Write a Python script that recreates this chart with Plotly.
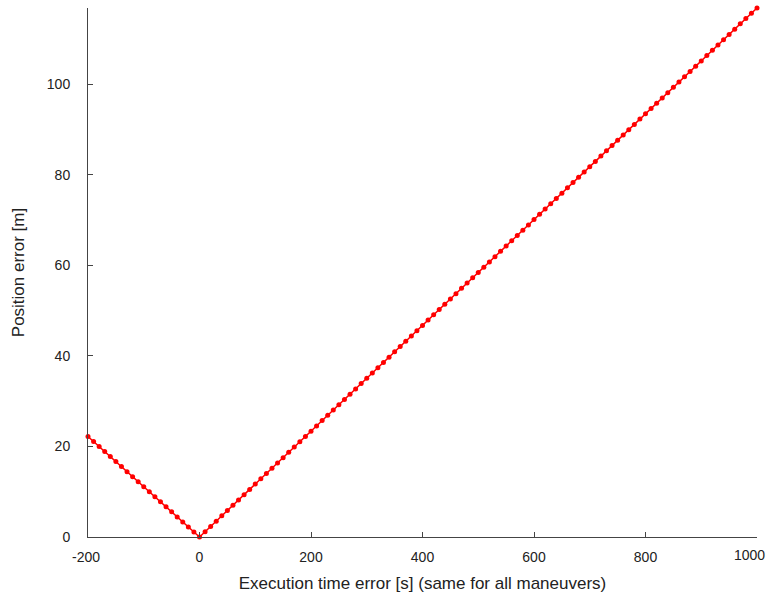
import plotly.graph_objects as go

# Execution time error samples [s], one every 10 s
exec_time_err = list(range(-200, 1001, 10))

# Resulting position error [m]
position_err = [
    22.20, 21.09, 19.98, 18.87, 17.76, 16.65, 15.54, 14.43, 13.32, 12.21,
    11.10, 9.99, 8.88, 7.77, 6.66, 5.55, 4.44, 3.33, 2.22, 1.11,
    0.00,
    1.17, 2.34, 3.50, 4.67, 5.84, 7.01, 8.18, 9.34, 10.51, 11.68,
    12.85, 14.02, 15.18, 16.35, 17.52, 18.69, 19.86, 21.02, 22.19, 23.36,
    24.53, 25.70, 26.86, 28.03, 29.20, 30.37, 31.54, 32.70, 33.87, 35.04,
    36.21, 37.38, 38.54, 39.71, 40.88, 42.05, 43.22, 44.38, 45.55, 46.72,
    47.89, 49.06, 50.22, 51.39, 52.56, 53.73, 54.90, 56.06, 57.23, 58.40,
    59.57, 60.74, 61.90, 63.07, 64.24, 65.41, 66.58, 67.74, 68.91, 70.08,
    71.25, 72.42, 73.58, 74.75, 75.92, 77.09, 78.26, 79.42, 80.59, 81.76,
    82.93, 84.10, 85.26, 86.43, 87.60, 88.77, 89.94, 91.10, 92.27, 93.44,
    94.61, 95.78, 96.94, 98.11, 99.28, 100.45, 101.62, 102.78, 103.95, 105.12,
    106.29, 107.46, 108.62, 109.79, 110.96, 112.13, 113.30, 114.46, 115.63, 116.80,
]

x_ticks = [-200, 0, 200, 400, 600, 800, 1000]
x_tick_labels = ["-200\u00a0", "0", "200", "400", "600", "800", "1000"]
y_ticks = [0, 20, 40, 60, 80, 100]

fig = go.Figure(
    go.Scatter(
        x=exec_time_err,
        y=position_err,
        mode="lines+markers",
        line=dict(color="#ff0000", width=1.5),
        marker=dict(color="#ff0000", size=5),
        cliponaxis=False,
        showlegend=False,
    )
)

axis_font = dict(family="Liberation Sans, Arial, sans-serif", size=14, color="#222222")

# The right-most tick label sits at the page edge, so it is drawn right-aligned
# as an annotation instead of a centred tick label.
axis_tick_text = x_tick_labels[:-1] + [""]

fig.update_layout(
    width=769,
    height=597,
    paper_bgcolor="white",
    plot_bgcolor="white",
    margin=dict(l=88, r=12, t=8, b=60),
    font=axis_font,
    xaxis=dict(
        range=[-200, 1000],
        tickvals=x_ticks,
        ticktext=axis_tick_text,
        ticks="inside",
        ticklen=5,
        tickcolor="#444444",
        ticklabelstandoff=7,
        automargin=False,
        showline=True,
        linecolor="#444444",
        linewidth=1,
        showgrid=False,
        zeroline=False,
        title=dict(text="Execution time error [s] (same for all maneuvers)", standoff=13),
        tickfont=axis_font,
    ),
    yaxis=dict(
        range=[0, 116.8],
        tickvals=y_ticks,
        ticks="inside",
        ticklen=5,
        tickcolor="#444444",
        ticklabelstandoff=14,
        automargin=False,
        showline=True,
        linecolor="#444444",
        linewidth=1,
        showgrid=False,
        zeroline=False,
        title=dict(text="Position error [m]", standoff=17),
        tickfont=axis_font,
    ),
    annotations=[
        dict(
            x=x_ticks[-1],
            xref="x",
            y=0,
            yref="paper",
            text=x_tick_labels[-1],
            showarrow=False,
            xanchor="right",
            yanchor="top",
            xshift=10,
            yshift=-8,
            font=axis_font,
        )
    ],
)

fig.write_html("out.html")
